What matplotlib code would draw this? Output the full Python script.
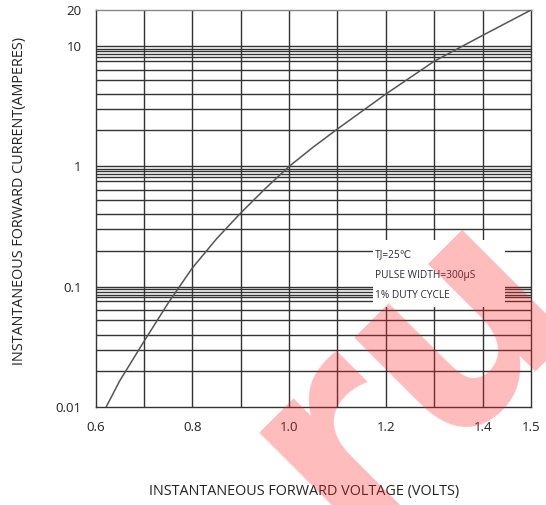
import matplotlib
matplotlib.use("Agg")
import matplotlib.pyplot as plt
import matplotlib.patches as mpatches

# Data
voltage = [0.622, 0.65, 0.7, 0.75, 0.8, 0.85, 0.9, 0.95, 1.0, 1.05, 1.1, 1.2, 1.3, 1.4, 1.5]
current = [0.01, 0.0165, 0.035, 0.073, 0.143, 0.25, 0.41, 0.65, 1.0, 1.45, 2.05, 4.0, 7.5, 12.3, 20.0]

x_ticks = [0.6, 0.8, 1.0, 1.2, 1.4, 1.5]
x_tick_labels = ["0.6", "0.8", "1.0", "1.2", "1.4", "1.5"]
x_grid = [0.7, 0.8, 0.9, 1.0, 1.1, 1.2, 1.3, 1.4]
y_ticks = [0.01, 0.1, 1, 10, 20]
y_tick_labels = ["0.01", "0.1", "1", "10", "20"]
decades = [0.01, 0.1, 1]
grid_mults = [2, 3, 4, 5.25, 6.4, 7.6, 8.15, 8.6, 9.1, 9.55, 10]

x_label = "INSTANTANEOUS FORWARD VOLTAGE (VOLTS)"
y_label = "INSTANTANEOUS FORWARD CURRENT(AMPERES)"
note_lines = ["TJ=25\u2103", "PULSE WIDTH=300\u03bcS", "1% DUTY CYCLE"]
watermark = "ru"

W, H = 546, 505
plt.rcParams['font.family'] = ['Open Sans', 'DejaVu Sans']
fig = plt.figure(figsize=(W / 100, H / 100), dpi=100)
ax = fig.add_axes([95.5 / W, 1 - 407 / H, (531 - 95.5) / W, (407 - 10) / H])
ax.set_yscale('log')
ax.set_xlim(0.6, 1.5)
ax.set_ylim(0.01, 20)

gc = '#333333'
for d in decades:
    for m in grid_mults:
        ax.axhline(d * m, color=gc, lw=1.0, zorder=1)
for xv in x_grid:
    ax.axvline(xv, color=gc, lw=1.0, zorder=1)

# note box (white patch hiding the grid)
box = mpatches.Rectangle((1.173, 0.068), 1.446 - 1.173, 0.244 - 0.068,
                         transform=ax.transData, facecolor='white',
                         edgecolor='none', zorder=2)
ax.add_patch(box)

ax.plot(voltage, current, color='#555555', lw=1.1, zorder=3)

ax.set_xticks(x_ticks)
ax.set_xticklabels(x_tick_labels, fontsize=9.5, color='#222222')
ax.set_yticks(y_ticks)
ax.set_yticklabels(y_tick_labels, fontsize=9.5, color='#222222')
ax.minorticks_off()
ax.tick_params(axis='x', length=0, pad=10)
ax.tick_params(axis='y', length=0, pad=10)
for s in ax.spines.values():
    s.set_color(gc)
    s.set_linewidth(1.0)
ax.spines['top'].set_color('#888888')

for i, t in enumerate(note_lines):
    fig.text(375 / W, 1 - (254.5 + 20.7 * i) / H, t, fontsize=7.3, color='#2a2a35',
             va='center', ha='left')

fig.text(304 / W, 1 - 492 / H, x_label, fontsize=10.4, color='#222222',
         ha='center', va='center')
fig.text(20 / W, 1 - 201 / H, y_label, fontsize=10.4, color='#222222',
         ha='center', va='center', rotation=90)

# watermark
fig.text(344 / W, 1 - 540 / H, watermark, fontsize=200, fontweight='bold',
         family='DejaVu Sans', color='#ff2020', alpha=0.3, rotation=45,
         rotation_mode='anchor', ha='left', va='baseline', zorder=10)

fig.savefig("out.png", dpi=100)
